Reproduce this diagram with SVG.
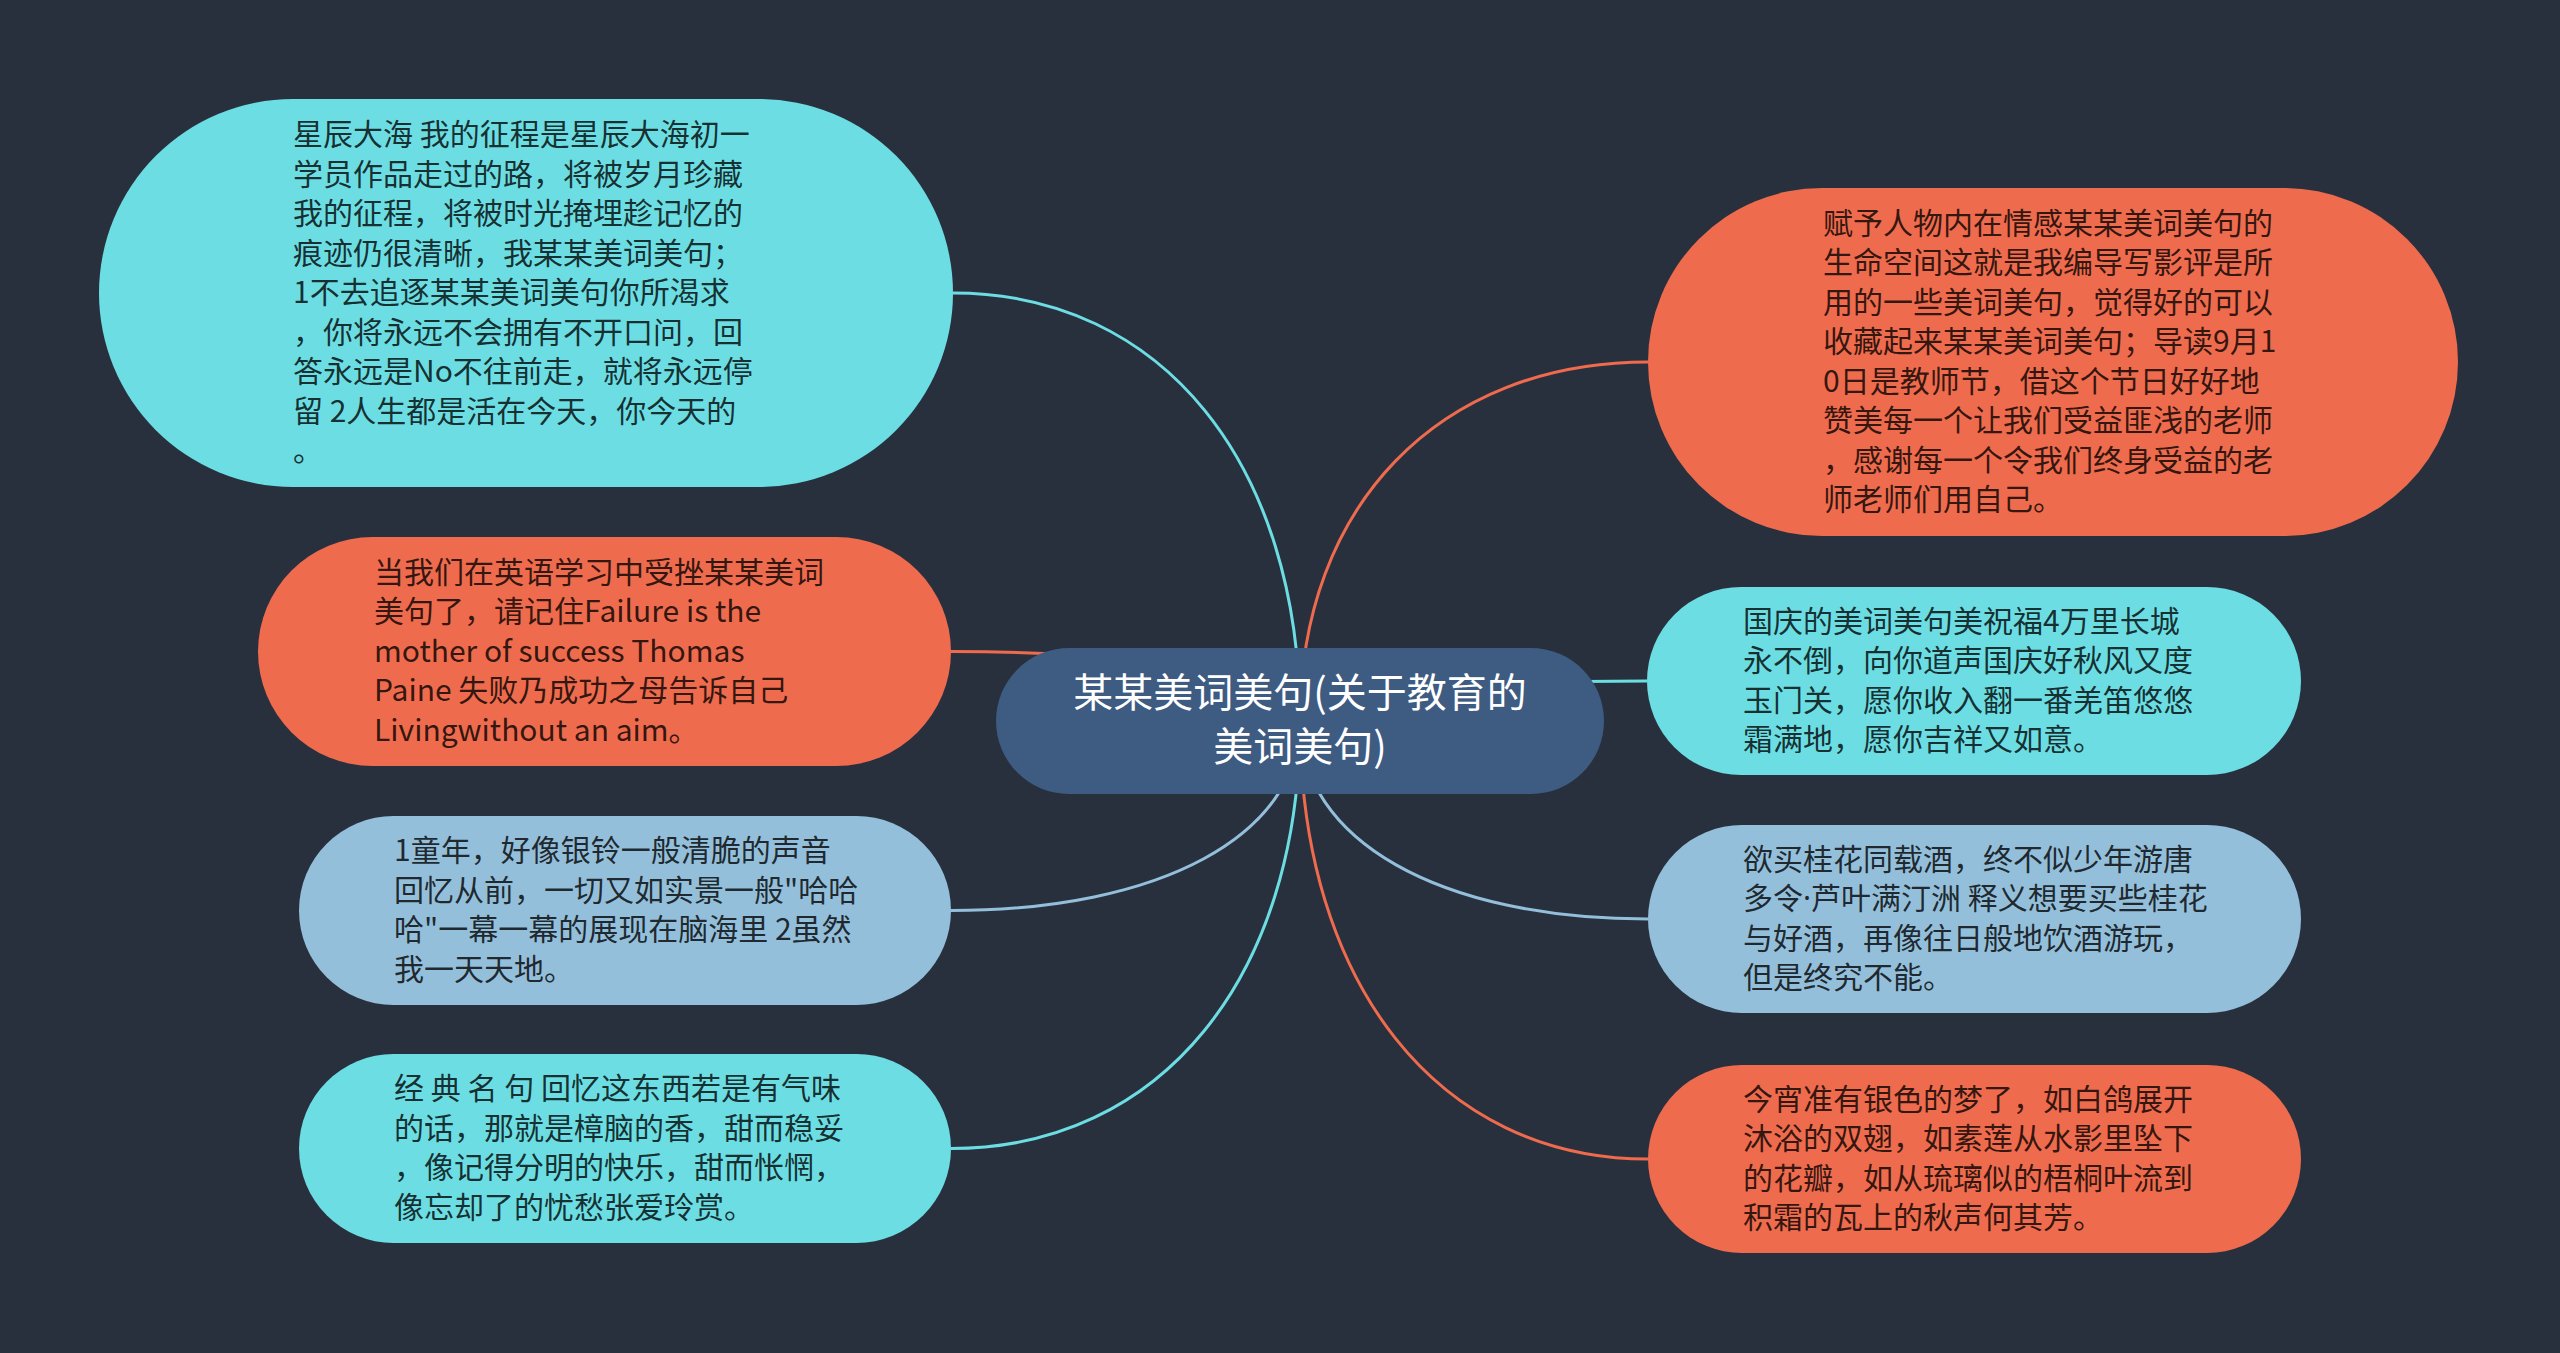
<svg xmlns="http://www.w3.org/2000/svg" width="2560" height="1353" viewBox="0 0 2560 1353">
<style>
.bg{fill:#28303e}
.cyan{fill:#6cdde3}
.orange{fill:#ee6b4d}
.blue{fill:#94bfda}
.root{fill:#3e5b82}
.t{font-family:"Noto Sans CJK SC","Noto Sans",sans-serif;font-size:30px;fill:#000;fill-opacity:0.8}
.rt{font-family:"Noto Sans CJK SC","Noto Sans",sans-serif;font-size:40px;fill:#ffffff;text-anchor:middle}
.lat{font-family:"Noto Sans",sans-serif}
.c{fill:none;stroke-width:3}
.cc{stroke:#6cdde3}
.co{stroke:#ee6b4d}
.cb{stroke:#94bfda}
</style>
<rect class="bg" x="0" y="0" width="2560" height="1353"/>
<g id="connectors">
<path class="c cc" d="M953,293 C1162,293 1300,464 1300,721"/>
<path class="c co" d="M951,651.5 C1161,651.5 1300,679 1300,721"/>
<path class="c cb" d="M951,910.5 C1161,910.5 1300,835 1300,721"/>
<path class="c cc" d="M951,1148.5 C1161,1148.5 1300,977 1300,721"/>
<path class="c co" d="M1648,362 C1439,362 1300,506 1300,721"/>
<path class="c cc" d="M1647,681 C1439,681 1300,697 1300,721"/>
<path class="c cb" d="M1648,919 C1439,919 1300,840 1300,721"/>
<path class="c co" d="M1648,1159 C1439,1159 1300,984 1300,721"/>
</g>
<g id="root">
<rect class="root" x="996" y="648" width="608" height="146" rx="73" ry="73"/>
<text class="rt" x="1300" y="707">某某美词美句(关于教育的</text>
<text class="rt" x="1300" y="761">美词美句)</text>
</g>
<g id="node-l1">
<rect class="cyan" x="99" y="99" width="854" height="388" rx="194" ry="194"/>
<text class="t" x="293" y="145">星辰大海 我的征程是星辰大海初一</text>
<text class="t" x="293" y="184.5">学员作品走过的路，将被岁月珍藏</text>
<text class="t" x="293" y="224">我的征程，将被时光掩埋趁记忆的</text>
<text class="t" x="293" y="263.5">痕迹仍很清晰，我某某美词美句；</text>
<text class="t" x="293" y="303">1不去追逐某某美词美句你所渴求</text>
<text class="t" x="293" y="342.5">，你将永远不会拥有不开口问，回</text>
<text class="t" x="293" y="382">答永远是No不往前走，就将永远停</text>
<text class="t" x="293" y="421.5">留 2人生都是活在今天，你今天的</text>
<text class="t" x="293" y="461">。</text>
</g>
<g id="node-l2">
<rect class="orange" x="258" y="537" width="693" height="229" rx="114.5" ry="114.5"/>
<text class="t" x="374" y="582.5">当我们在英语学习中受挫某某美词</text>
<text class="t" x="374" y="622">美句了，请记住Failure is the</text>
<text class="t" x="374" y="661.5">mother of success Thomas</text>
<text class="t" x="374" y="701">Paine 失败乃成功之母告诉自己</text>
<text class="t" x="374" y="740.5">Livingwithout an aim。</text>
</g>
<g id="node-l3">
<rect class="blue" x="299" y="816" width="652" height="189" rx="94.5" ry="94.5"/>
<text class="t" x="394" y="861">1童年，好像银铃一般清脆的声音</text>
<text class="t" x="394" y="900.5">回忆从前，一切又如实景一般"哈哈</text>
<text class="t" x="394" y="940">哈"一幕一幕的展现在脑海里 2虽然</text>
<text class="t" x="394" y="979.5">我一天天地。</text>
</g>
<g id="node-l4">
<rect class="cyan" x="299" y="1054" width="652" height="189" rx="94.5" ry="94.5"/>
<text class="t" x="394" y="1099">经 典 名 句 回忆这东西若是有气味</text>
<text class="t" x="394" y="1138.5">的话，那就是樟脑的香，甜而稳妥</text>
<text class="t" x="394" y="1178">，像记得分明的快乐，甜而怅惘，</text>
<text class="t" x="394" y="1217.5">像忘却了的忧愁张爱玲赏。</text>
</g>
<g id="node-r1">
<rect class="orange" x="1648" y="188" width="810" height="348" rx="174" ry="174"/>
<text class="t" x="1823" y="233.75">赋予人物内在情感某某美词美句的</text>
<text class="t" x="1823" y="273.25">生命空间这就是我编导写影评是所</text>
<text class="t" x="1823" y="312.75">用的一些美词美句，觉得好的可以</text>
<text class="t" x="1823" y="352.25">收藏起来某某美词美句；导读9月1</text>
<text class="t" x="1823" y="391.75">0日是教师节，借这个节日好好地</text>
<text class="t" x="1823" y="431.25">赞美每一个让我们受益匪浅的老师</text>
<text class="t" x="1823" y="470.75">，感谢每一个令我们终身受益的老</text>
<text class="t" x="1823" y="510.25">师老师们用自己。</text>
</g>
<g id="node-r2">
<rect class="cyan" x="1647" y="587" width="654" height="188" rx="94" ry="94"/>
<text class="t" x="1743" y="631.75">国庆的美词美句美祝福4万里长城</text>
<text class="t" x="1743" y="671.25">永不倒，向你道声国庆好秋风又度</text>
<text class="t" x="1743" y="710.75">玉门关，愿你收入翻一番羌笛悠悠</text>
<text class="t" x="1743" y="750.25">霜满地，愿你吉祥又如意。</text>
</g>
<g id="node-r3">
<rect class="blue" x="1648" y="825" width="653" height="188" rx="94" ry="94"/>
<text class="t" x="1743" y="869.75">欲买桂花同载酒，终不似少年游唐</text>
<text class="t" x="1743" y="909.25">多令<tspan class="lat">·</tspan>芦叶满汀洲 释义想要买些桂花</text>
<text class="t" x="1743" y="948.75">与好酒，再像往日般地饮酒游玩，</text>
<text class="t" x="1743" y="988.25">但是终究不能。</text>
</g>
<g id="node-r4">
<rect class="orange" x="1648" y="1065" width="653" height="188" rx="94" ry="94"/>
<text class="t" x="1743" y="1109.75">今宵准有银色的梦了，如白鸽展开</text>
<text class="t" x="1743" y="1149.25">沐浴的双翅，如素莲从水影里坠下</text>
<text class="t" x="1743" y="1188.75">的花瓣，如从琉璃似的梧桐叶流到</text>
<text class="t" x="1743" y="1228.25">积霜的瓦上的秋声何其芳。</text>
</g>
</svg>
